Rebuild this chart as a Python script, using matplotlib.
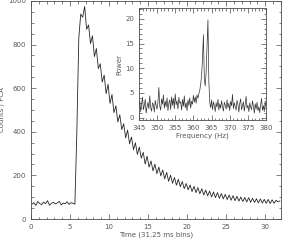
import numpy as np
import matplotlib
matplotlib.use("Agg")
import matplotlib.pyplot as plt
from matplotlib.ticker import MultipleLocator

# light curve: counts per PCA, 0.25 s bins starting at t=0
bin_width = 0.25
counts = [
    68, 75, 62, 80, 71, 66, 78, 70, 84, 63, 72, 77, 69, 74, 81, 65, 73, 70, 79, 67, 75, 72, 68,
    400, 830, 940,
    925, 975, 870, 890, 805, 840, 745, 782, 690, 712,
    628, 660, 575, 618, 530, 571, 488, 519, 445, 478,
    410, 437, 372, 408, 345, 376, 318, 350, 296, 330,
    279, 306, 252, 288, 238, 266, 221, 252, 208, 238,
    198, 225, 184, 214, 173, 201, 164, 190, 155, 182,
    148, 172, 139, 163, 134, 156, 126, 150, 121, 144,
    116, 139, 110, 133, 106, 128, 101, 124, 98, 121,
    95, 117, 92, 113, 89, 110, 86, 107, 84, 104,
    82, 101, 80, 99, 78, 98, 77, 95, 76, 93,
    74, 92, 73, 90, 72, 90, 71, 88, 72, 86,
    79, 83,
]

# power spectrum, 0.25 Hz resolution starting at 345 Hz
freq_start = 345.0
freq_step = 0.25
power = [
    2.1, 3.4, 1.2, 2.8, 4.1, 1.6, 2.5, 3.7, 0.9, 2.2, 3.1, 1.8, 4.4, 2.0, 1.3, 3.0, 2.6, 1.1, 3.5, 2.4, 1.7,
    3.2, 6.1, 2.3, 1.5, 3.8, 2.7, 4.6, 1.9, 3.3, 2.2, 4.0, 1.4, 2.9, 3.6, 1.6, 4.2, 2.5, 3.9, 1.8, 4.8,
    2.6, 3.4, 1.7, 4.1, 2.9, 3.2, 1.5, 3.7, 2.3, 4.4, 2.0, 3.0, 1.4, 3.6, 2.4, 4.0, 1.9, 3.3, 2.7, 4.5,
    3.1, 4.2, 2.9, 4.6, 3.9, 4.8, 5.5, 6.8, 8.5, 11.9, 16.8, 8.0, 6.4, 9.2, 14.5, 19.8, 7.2, 3.0, 2.0, 3.6,
    1.6, 3.2, 2.4, 1.2, 3.0, 2.1, 3.7, 1.5, 2.8, 1.9, 3.4, 2.2, 1.3, 3.1, 2.5, 1.7, 3.6, 2.0, 2.9, 1.4,
    3.3, 2.4, 4.7, 1.8, 3.0, 2.2, 1.5, 3.5, 2.6, 1.1, 2.9, 3.8, 1.6, 2.4, 3.2, 1.3, 2.7, 4.3, 1.9, 2.5,
    1.2, 3.0, 2.1, 1.6, 3.4, 2.3, 0.9, 2.8, 1.7, 3.1, 1.4, 2.2, 1.0, 2.6, 3.9, 1.5, 2.4, 1.2, 3.3, 2.0,
]

time = np.arange(len(counts)) * bin_width + bin_width / 2
freq = freq_start + np.arange(len(power)) * freq_step

fs = 5
tc = "0.35"


def style(ax, xmaj, xmin, ymaj, ymin):
    ax.xaxis.set_major_locator(MultipleLocator(xmaj))
    ax.xaxis.set_minor_locator(MultipleLocator(xmin))
    ax.yaxis.set_major_locator(MultipleLocator(ymaj))
    ax.yaxis.set_minor_locator(MultipleLocator(ymin))
    ax.tick_params(which="both", direction="in", top=True, right=True,
                   labelsize=fs, labelcolor=tc, color="0.3", width=0.5)
    ax.tick_params(which="major", length=3.5)
    ax.tick_params(which="minor", length=1.8)
    for s in ax.spines.values():
        s.set_linewidth(0.6)
        s.set_color("0.3")


fig = plt.figure(figsize=(2.84, 2.42), dpi=100)

ax = fig.add_axes([0.109, 0.095, 0.880, 0.901])
ax.plot(time, counts, color="0.15", lw=0.6)
ax.set_xlim(0, 32)
ax.set_ylim(0, 1000)
style(ax, 5, 1, 200, 50)
ax.set_xlabel("Time (31.25 ms bins)", fontsize=fs, color=tc, labelpad=1)
ax.set_ylabel("Counts / PCA", fontsize=fs, color=tc, labelpad=2)

ins = fig.add_axes([0.489, 0.504, 0.448, 0.463])
ins.plot(freq, power, color="0.2", lw=0.5)
ins.set_xlim(345, 380)
ins.set_ylim(-0.5, 22.2)
style(ins, 5, 1, 5, 1)
ins.set_xlabel("Frequency (Hz)", fontsize=fs, color=tc, labelpad=1)
ins.set_ylabel("Power", fontsize=fs, color=tc, labelpad=2)

fig.savefig("out.png", dpi=100)
